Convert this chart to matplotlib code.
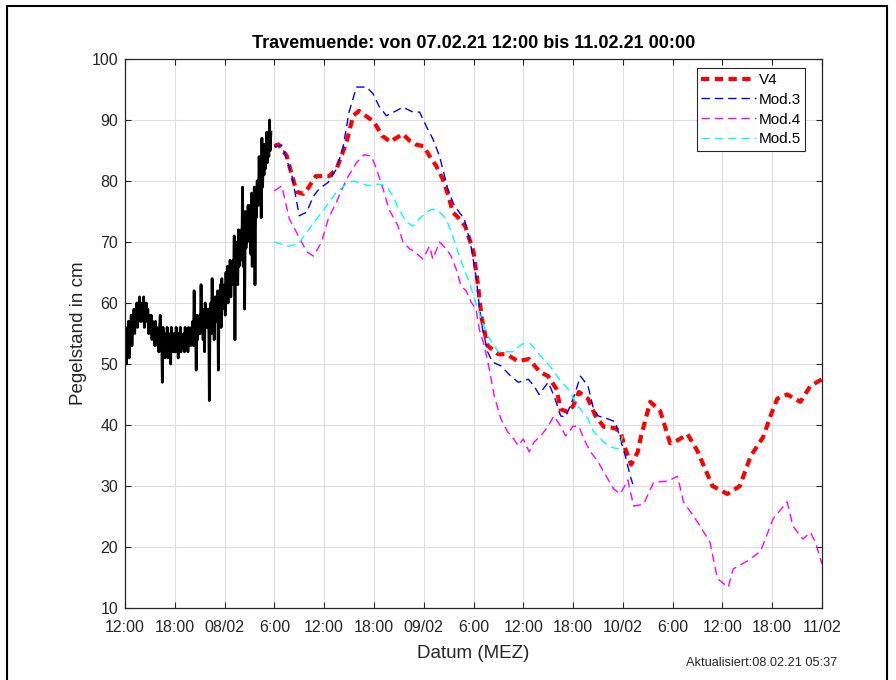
import numpy as np
import matplotlib
matplotlib.use('Agg')
from matplotlib import pyplot as plt
from matplotlib.patches import Rectangle

plt.rcParams['font.family'] = ['Liberation Sans', 'DejaVu Sans']

# hours since 07.02.21 12:00
tick_labels = ['12:00', '18:00', '08/02', '6:00', '12:00', '18:00', '09/02', '6:00',
               '12:00', '18:00', '10/02', '6:00', '12:00', '18:00', '11/02']

# observed water level, 5 min steps (one row per hour)
obs_val = [52, 56, 50, 55, 53, 57, 51, 55, 54, 58, 53, 56,
           56, 59, 55, 58, 57, 60, 56, 59, 58, 61, 57, 59,
           57, 60, 58, 61, 56, 59, 58, 60, 57, 59, 55, 58,
           57, 55, 58, 54, 57, 55, 56, 53, 57, 54, 56, 53,
           55, 52, 56, 58, 53, 55, 47, 56, 52, 55, 51, 54,
           53, 56, 51, 55, 52, 54, 50, 56, 53, 55, 52, 54,
           55, 52, 56, 53, 54, 51, 55, 53, 56, 52, 54, 53,
           53, 55, 52, 56, 54, 53, 55, 52, 56, 54, 55, 53,
           56, 54, 57, 53, 62, 55, 56, 49, 58, 54, 57, 55,
           58, 55, 63, 56, 59, 54, 58, 52, 60, 56, 59, 57,
           56, 59, 44, 58, 60, 55, 64, 57, 59, 54, 61, 58,
           61, 57, 62, 49, 60, 58, 63, 56, 64, 59, 62, 60,
           63, 58, 65, 61, 66, 60, 64, 62, 67, 61, 65, 63,
           67, 64, 71, 54, 69, 65, 70, 63, 72, 66, 69, 67,
           72, 68, 79, 66, 73, 59, 75, 69, 74, 70, 76, 72,
           71, 76, 68, 78, 66, 75, 73, 79, 63, 77, 74, 80,
           80, 76, 84, 78, 83, 74, 87, 79, 85, 81, 86, 82,
           85, 88, 83, 87, 84, 90, 85, 88]
obs_t = np.arange(len(obs_val)) / 12.0

v4_t = [18, 18.5, 19.5, 20, 20.7, 21.5, 22, 23, 24, 24.6, 25.5, 26.7, 27.5, 28.2, 29,
        30, 31, 32, 32.5, 33.5, 34.3, 35, 36, 36.7, 37.5, 38.3, 39, 39.5, 40.3, 41,
        42, 42.5, 43, 43.7, 45, 46, 47.3, 48.7, 50, 51, 52, 52.5, 53.4, 54, 54.7,
        55.8, 56.7, 57.7, 59, 59.7, 60.3, 61, 61.8, 62.2, 63.3, 64.5, 65.7, 66.6, 67.8, 69,
        70.8, 72.6, 74.1, 75.4, 76.9, 77.8, 78.6, 79.8, 81.4, 82.6, 84]
v4_val = [85.7, 86, 84.1, 81.5, 78.2, 77.9, 78.7, 80.8, 80.8, 80.8, 82, 86.4, 90.7, 91.5, 90.7,
          89.7, 87.4, 86.4, 86.9, 87.7, 86.6, 86, 85.7, 84.1, 82.5, 80.3, 77.5, 74.9, 73.8, 72.6,
          68.4, 63.4, 57.4, 53, 51.6, 51.6, 50.5, 50.8, 48.7, 48, 45.9, 42.6, 42.1, 43.1, 45.4,
          44.3, 41.5, 39.7, 39.5, 38.9, 36.1, 33.5, 35.6, 38.2, 43.8, 42.3, 37, 37.5, 38.5, 35.7,
          30, 28.7, 30, 34.9, 38, 41.5, 44.3, 45, 43.8, 46.4, 47.5]

m3_t = [18, 18.9, 20.1, 21, 21.9, 22.7, 23.4, 24.5, 25.5, 26.3, 27, 27.9, 29.1, 29.9, 30.6,
        31.5, 32.4, 33.5, 34.7, 35.5, 36.3, 37.1, 37.9, 38.9, 39.7, 40.9, 41.7, 42.3, 42.7, 43.1,
        43.7, 44.3, 45.3, 46.5, 47.4, 48.6, 49.3, 49.9, 51, 51.7, 52.5, 53.1, 54, 54.9, 55.8,
        56.4, 57, 58.2, 59.1, 59.7, 60.3, 60.9, 61.2]
m3_val = [85.6, 85.9, 81, 74.3, 74.9, 77.5, 78.7, 79.8, 82, 85.7, 91.3, 95.4, 95.4, 94.3, 92.3,
          90.7, 91.3, 92.1, 91.3, 91.3, 89, 86.9, 84.1, 78.7, 75.9, 73.8, 69.3, 64.4, 59.5, 55.7,
          52, 50.3, 49.7, 48, 47, 47.5, 46.4, 45, 47, 44.8, 41.5, 41.3, 44.3, 48, 46.4,
          43, 41.5, 41, 40.5, 37.7, 34.9, 31.6, 30.3]

m4_t = [18, 18.9, 19.8, 20.9, 21.9, 22.7, 23.7, 24.5, 25.5, 26.7, 27.9, 28.8, 29.7, 30.3, 31.1,
        31.8, 32.9, 33.5, 34.3, 34.9, 35.9, 36.7, 37.1, 37.9, 38.7, 39.3, 39.9, 40.5, 41.1, 41.7,
        42.3, 42.7, 43.3, 43.9, 44.5, 45.3, 46.1, 46.7, 47.4, 48, 48.7, 49.3, 50.1, 51, 51.7,
        52.5, 53.1, 54, 54.7, 55.3, 56.1, 57, 57.7, 58.9, 59.7, 60.6, 61.3, 62.5, 63.7, 65.4,
        66.6, 67.3, 69, 70.5, 71.4, 72.7, 73.3, 75, 76.6, 78.1, 79.8, 80.5, 81.7, 82.6, 83.2, 84]
m4_val = [78.4, 79.2, 73.8, 71, 68.4, 67.7, 70, 73.8, 76.6, 80.3, 83, 84.3, 84.1, 82, 78.7,
          75.4, 72.6, 70, 68.9, 68.4, 67.2, 69.3, 67.2, 70, 68.9, 67.7, 65.6, 62.8, 62, 60.2,
          59, 55.7, 53, 49.2, 44.8, 41, 38.9, 38, 36.6, 37.7, 35.6, 37.2, 38.2, 39.8, 41.5,
          39.8, 38.2, 39.8, 39.8, 37.7, 35.6, 34, 32.3, 29.5, 28.7, 31, 26.7, 27, 30.6, 30.8,
          31.6, 27.4, 24.1, 20.8, 14.8, 13.4, 16.4, 17.7, 19.3, 24.6, 27.4, 23.4, 21.3, 22.4, 20.8, 17.2]

m5_t = [18, 19.7, 20.9, 21.9, 23.1, 24.3, 25.5, 26.7, 27.5, 28.7, 29.4, 30.6, 31.5, 32.3, 33,
        33.9, 34.7, 35.5, 36.3, 37.1, 37.9, 38.7, 39.5, 40.3, 41, 41.5, 42.5, 43.7, 45, 46.7,
        47.9, 48.9, 50.1, 51.3, 52.5, 53.4, 54.6, 55.8, 56.5, 57.7, 58.5, 59.4, 60]
m5_val = [70, 69.3, 69.7, 71.6, 73.8, 75.9, 78.2, 79.5, 80, 79.5, 79.2, 79.5, 79.2, 77.5, 75.4,
          73.3, 72.6, 73.8, 74.9, 75.4, 74.9, 73.8, 71, 67.7, 65, 63.4, 59, 54.6, 52, 52,
          53.3, 53.3, 51.3, 49.5, 47.2, 45.9, 43.1, 41, 38.9, 37.2, 36.4, 36.1, 38.2]

fig = plt.figure(figsize=(8.96, 6.8), dpi=100)
ax = fig.add_axes([125 / 896, 1 - 608 / 680, 697 / 896, 549 / 680])

ax.plot(obs_t, obs_val, color='black', lw=2, label='_nolegend_')
ax.plot(v4_t, v4_val, color='#ff0000', lw=3, dashes=(2, 1.3), label='V4')
ax.plot(m3_t, m3_val, color='#0000ff', lw=1, dashes=(6, 3.6), label='Mod.3')
ax.plot(m4_t, m4_val, color='#ff00ff', lw=1, dashes=(6, 3.6), label='Mod.4')
ax.plot(m5_t, m5_val, color='#00ffff', lw=1, dashes=(6, 3.6), label='Mod.5')

ax.set_xlim(0, 84)
ax.set_ylim(10, 100)
ax.set_xticks(np.arange(0, 85, 6))
ax.set_xticklabels(tick_labels)
ax.set_yticks(np.arange(10, 101, 10))
ax.grid(True, color='#dedede', lw=0.8)
ax.set_axisbelow(True)
ax.tick_params(direction='in', length=4.3, labelsize=11.5, colors='#262626',
               top=True, right=True)
ax.tick_params(axis='x', pad=9)
ax.tick_params(axis='y', pad=5)
for s in ax.spines.values():
    s.set_color('#262626')
    s.set_linewidth(0.9)

ax.set_title('Travemuende: von 07.02.21 12:00 bis 11.02.21 00:00',
             fontsize=13, fontweight='bold', pad=8)
ax.set_xlabel('Datum (MEZ)', fontsize=13.5, color='#262626', labelpad=7)
ax.set_ylabel('Pegelstand in cm', fontsize=13.5, color='#262626', labelpad=3)

leg = ax.legend(loc='upper right', bbox_to_anchor=(0.976, 0.983), fontsize=11,
                handlelength=3.6, handletextpad=0.15, borderpad=0.3, labelspacing=0.38,
                fancybox=False, framealpha=1, borderaxespad=0)
leg.get_frame().set_edgecolor('#262626')
leg.get_frame().set_linewidth(0.8)

fig.text(0.934, 0.025, 'Aktualisiert:08.02.21 05:37', ha='right', va='center',
         fontsize=9.2, color='#262626')

fig.patches.append(Rectangle((7 / 896, -0.05), 880 / 896, 1.05 - 6 / 680,
                             transform=fig.transFigure, fill=False,
                             edgecolor='black', lw=1.5))

fig.savefig('out.png', dpi=100)
